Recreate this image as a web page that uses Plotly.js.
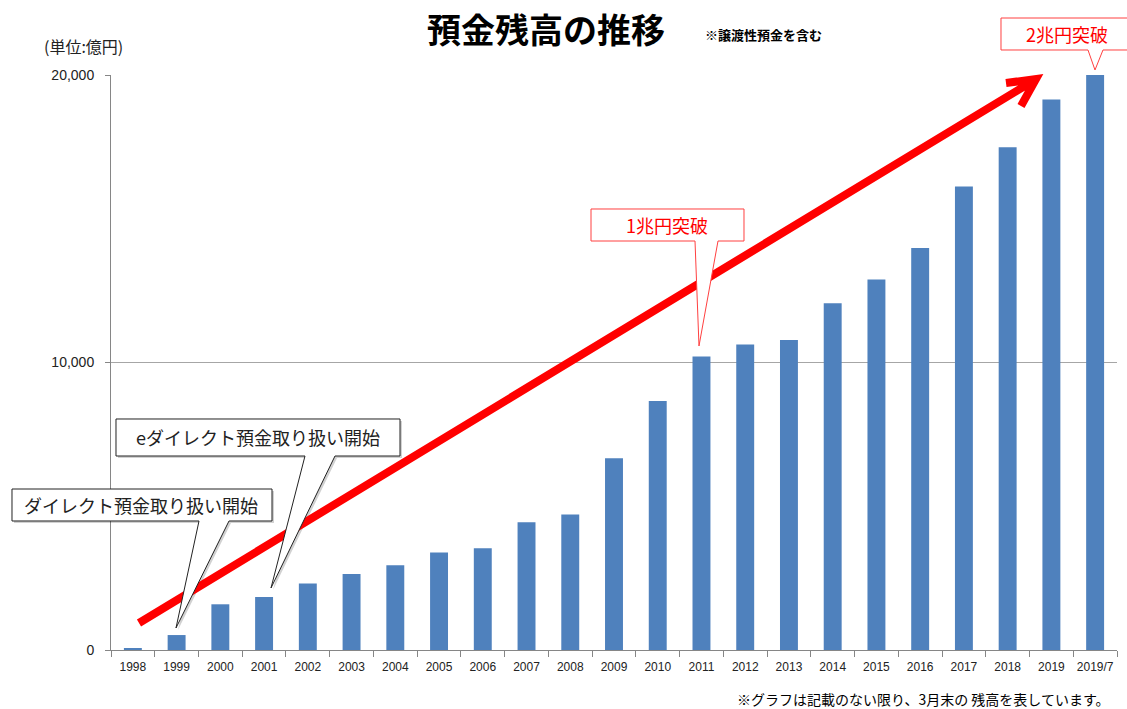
<!DOCTYPE html>
<html>
<head>
<meta charset="utf-8">
<script src="https://cdn.plot.ly/plotly-3.0.1.min.js"></script>
<style>html,body{margin:0;padding:0;background:#fff;}#chart{width:1127px;height:709px;}</style>
</head>
<body>
<div id="chart"></div>
<script>
// ---- data ----
const years = ['1998','1999','2000','2001','2002','2003','2004','2005','2006','2007','2008','2009','2010','2011','2012','2013','2014','2015','2016','2017','2018','2019','2019/7'];
const balances = [70, 520, 1590, 1845, 2310, 2645, 2950, 3390, 3540, 4445, 4710, 6670, 8665, 10210, 10630, 10780, 12065, 12890, 13980, 16125, 17485, 19145, 20010];
const yTickVals = [0, 10000, 20000];
const yTickText = ['0', '10,000', '20,000'];
const titleText = '預金残高の推移';
const noteText = '※譲渡性預金を含む';
const unitText = '(単位:億円)';
const footText = '※グラフは記載のない限り、3月末の 残高を表しています。';
const callouts = ['ダイレクト預金取り扱い開始', 'eダイレクト預金取り扱い開始', '1兆円突破', '2兆円突破'];

// ---- layout helpers (pixel -> paper) ----
const L = 111, R = 1117, T = 75, B = 650;
const fx = px => (px - L) / (R - L);
const fy = py => (B - py) / (B - T);
const P = (x, y) => fx(x).toFixed(5) + ',' + fy(y).toFixed(5);
function calloutPath(x0, y0, x1, y1, b0, b1, tx, ty) {
  return 'M' + P(x0, y0) + ' L' + P(x1, y0) + ' L' + P(x1, y1) + ' L' + P(b1, y1) +
         ' L' + P(tx, ty) + ' L' + P(b0, y1) + ' L' + P(x0, y1) + ' Z';
}
const JP = '"Noto Sans CJK JP", "Noto Sans", sans-serif';

const trace = {
  type: 'bar', x: years, y: balances,
  marker: {color: '#4F81BD'},
  hoverinfo: 'skip'
};

const shapes = [
  // callout shadows
  {type: 'path', xref: 'paper', yref: 'paper', path: calloutPath(14, 491, 274, 523, 201, 231, 178, 630), fillcolor: 'rgba(0,0,0,0.18)', line: {width: 0}, layer: 'above'},
  {type: 'path', xref: 'paper', yref: 'paper', path: calloutPath(118, 421, 402, 458, 307, 337, 273, 590), fillcolor: 'rgba(0,0,0,0.18)', line: {width: 0}, layer: 'above'},
  // red arrow
  {type: 'path', xref: 'paper', yref: 'paper',
   path: 'M' + P(139, 623) + ' L' + P(1033, 81) + ' M' + P(1006, 83) + ' L' + P(1036, 79) + ' L' + P(1021, 106),
   line: {color: '#FF0000', width: 8}, layer: 'above'},
  // callouts
  {type: 'path', xref: 'paper', yref: 'paper', path: calloutPath(12, 489, 272, 521, 199, 229, 176, 628), fillcolor: '#fff', line: {color: '#222', width: 1}, layer: 'above'},
  {type: 'path', xref: 'paper', yref: 'paper', path: calloutPath(116, 419, 400, 456, 305, 335, 271, 588), fillcolor: '#fff', line: {color: '#222', width: 1}, layer: 'above'},
  {type: 'path', xref: 'paper', yref: 'paper', path: calloutPath(591, 209, 744, 241, 695, 718, 699, 346), fillcolor: '#fff', line: {color: '#FF4040', width: 1}, layer: 'above'},
  {type: 'path', xref: 'paper', yref: 'paper', path: calloutPath(1001, 18, 1135, 50, 1088, 1103, 1095, 70), fillcolor: '#fff', line: {color: '#FF4040', width: 1}, layer: 'above'}
];

const ann = (text, x, y, size, color, opts) => Object.assign({
  text: text, xref: 'paper', yref: 'paper', x: fx(x), y: fy(y),
  xanchor: 'center', yanchor: 'middle', showarrow: false,
  font: {family: JP, size: size, color: color}
}, opts || {});

const annotations = [
  ann('<b>' + titleText + '</b>', 546, 28, 34, '#000'),
  ann('<b>' + noteText + '</b>', 703, 34, 13, '#000', {xanchor: 'left'}),
  ann(unitText, 83, 46, 16, '#222'),
  ann(footText, 1112, 699, 14, '#000', {xanchor: 'right'}),
  ann(callouts[0], 141, 505, 18, '#222'),
  ann(callouts[1], 258, 437, 18, '#222'),
  ann(callouts[2], 667, 225, 18, '#FF0000'),
  ann(callouts[3], 1067, 34, 18, '#FF0000')
];

const layout = {
  width: 1127, height: 709,
  margin: {l: L, r: 1127 - R, t: T, b: 709 - B, pad: 0},
  paper_bgcolor: '#fff', plot_bgcolor: '#fff',
  bargap: 0.59,
  showlegend: false,
  xaxis: {
    type: 'category', showline: true, linecolor: '#868686', linewidth: 1,
    ticks: 'outside', tickson: 'boundaries', ticklen: 6, tickcolor: '#868686',
    showgrid: false, zeroline: false, tickangle: 0,
    tickfont: {family: 'Liberation Sans, Arial, sans-serif', size: 12, color: '#222'},
    ticklabelstandoff: 6, fixedrange: true
  },
  yaxis: {
    range: [0, 20000], showline: true, linecolor: '#868686', linewidth: 1,
    ticks: 'outside', ticklen: 5, tickcolor: '#868686',
    tickvals: yTickVals, ticktext: yTickText,
    showgrid: true, gridcolor: '#A6A6A6', gridwidth: 1, zeroline: false,
    tickfont: {family: 'Liberation Sans, Arial, sans-serif', size: 14, color: '#222'},
    ticklabelstandoff: 8, fixedrange: true
  },
  shapes: shapes,
  annotations: annotations
};

Plotly.newPlot('chart', [trace], layout, {displayModeBar: false, staticPlot: true});
</script>
</body>
</html>
